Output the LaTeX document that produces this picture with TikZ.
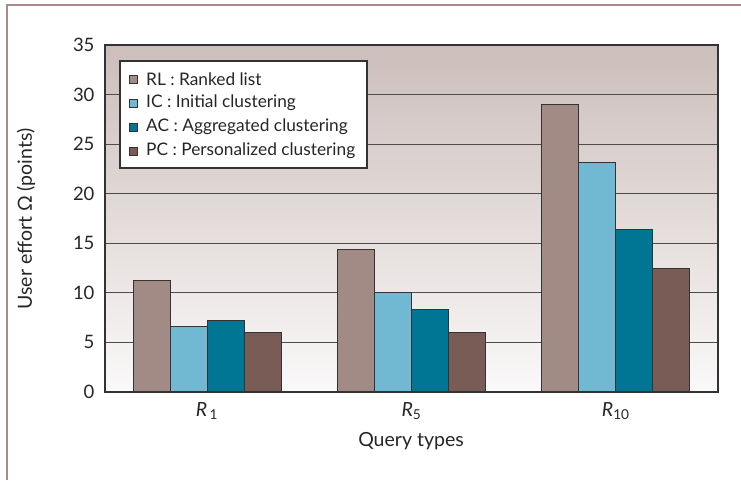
\documentclass[tikz,border=0pt]{standalone}
\usepackage{fontspec}
\setmainfont{Lato}
\begin{document}
\begin{tikzpicture}[x=1pt,y=-1pt,
  tick/.style={anchor=east,font=\fontsize{18.5}{20}\selectfont,text=black!85},
  lbl/.style={font=\fontsize{19.5}{21}\selectfont,text=black!85},
  grid/.style={draw=black!70,line width=1.1pt},
  bar/.style={draw=black!80,line width=1pt},
  legtext/.style={anchor=west,font=\fontsize{17.3}{19}\selectfont,text=black!85,inner sep=0pt},
  legmark/.style={draw=black!80,line width=0.8pt,minimum size=8pt,inner sep=0pt}]
\definecolor{cRL}{HTML}{A38B85}
\definecolor{cIC}{HTML}{71B9D3}
\definecolor{cAC}{HTML}{007594}
\definecolor{cPC}{HTML}{7A5C57}
\definecolor{bgtop}{HTML}{CCBEBA}
\definecolor{bgbot}{HTML}{FAF9F9}
\definecolor{frame}{HTML}{A98C88}
\useasboundingbox (0,0) rectangle (741,480);
% outer frame
\draw[frame,line width=1.2pt] (7,480) -- (7,5) -- (741,5);
% plot background
\shade[top color=bgtop,bottom color=bgbot] (105,45) rectangle (718,392);
% grid lines and ticks
\foreach \v in {5,10,...,30} {
  \draw[grid] (105,{392-\v*9.914}) -- (718,{392-\v*9.914});
}
\foreach \v in {0,5,...,35} {
  \node[tick] (t\v) at (98,{392-\v*9.914}) {\v};
}
% bars
\newcommand{\onebar}[3]{% x-left, value, colour
  \fill[#3,bar] (#1,392) rectangle ({#1+37},{392-#2*9.914});}
\foreach \c/\a/\b/\cc/\d in {207/11.2/6.6/7.2/6.05, 411.5/14.35/10.0/8.3/6.05, 615.8/29.05/23.2/16.35/12.45} {
  \onebar{\c-74}{\a}{cRL}
  \onebar{\c-37}{\b}{cIC}
  \onebar{\c}{\cc}{cAC}
  \onebar{\c+37}{\d}{cPC}
}
% plot frame
\draw[black!80,line width=1.4pt] (105,45) rectangle (718,392);
% category labels
\node[lbl] (r1) at (207,411) {\textit{R}\textsubscript{\,1}};
\node[lbl] (r5) at (411.5,411) {\textit{R}\textsubscript{5}};
\node[lbl] (r10) at (615.8,411) {\textit{R}\textsubscript{10}};
% axis labels
\node[lbl] (xl) at (411,441) {Query types};
\node[lbl,rotate=90] (yl) at (26,219) {User effort Ω (points)};
% legend
\draw[fill=white,draw=black!80,line width=1.2pt] (120,61) rectangle (367,168);
\node[legmark,fill=cRL] (m1) at (133,79) {};
\node[legmark,fill=cIC] (m2) at (133,103) {};
\node[legmark,fill=cAC] (m3) at (133,127) {};
\node[legmark,fill=cPC] (m4) at (133,151) {};
\node[legtext] (l1) at (146,79) {RL : Ranked list};
\node[legtext] (l2) at (146,103) {IC : Initial clustering};
\node[legtext] (l3) at (146,127) {AC : Aggregated clustering};
\node[legtext] (l4) at (146,151) {PC : Personalized clustering};
\end{tikzpicture}
\end{document}
